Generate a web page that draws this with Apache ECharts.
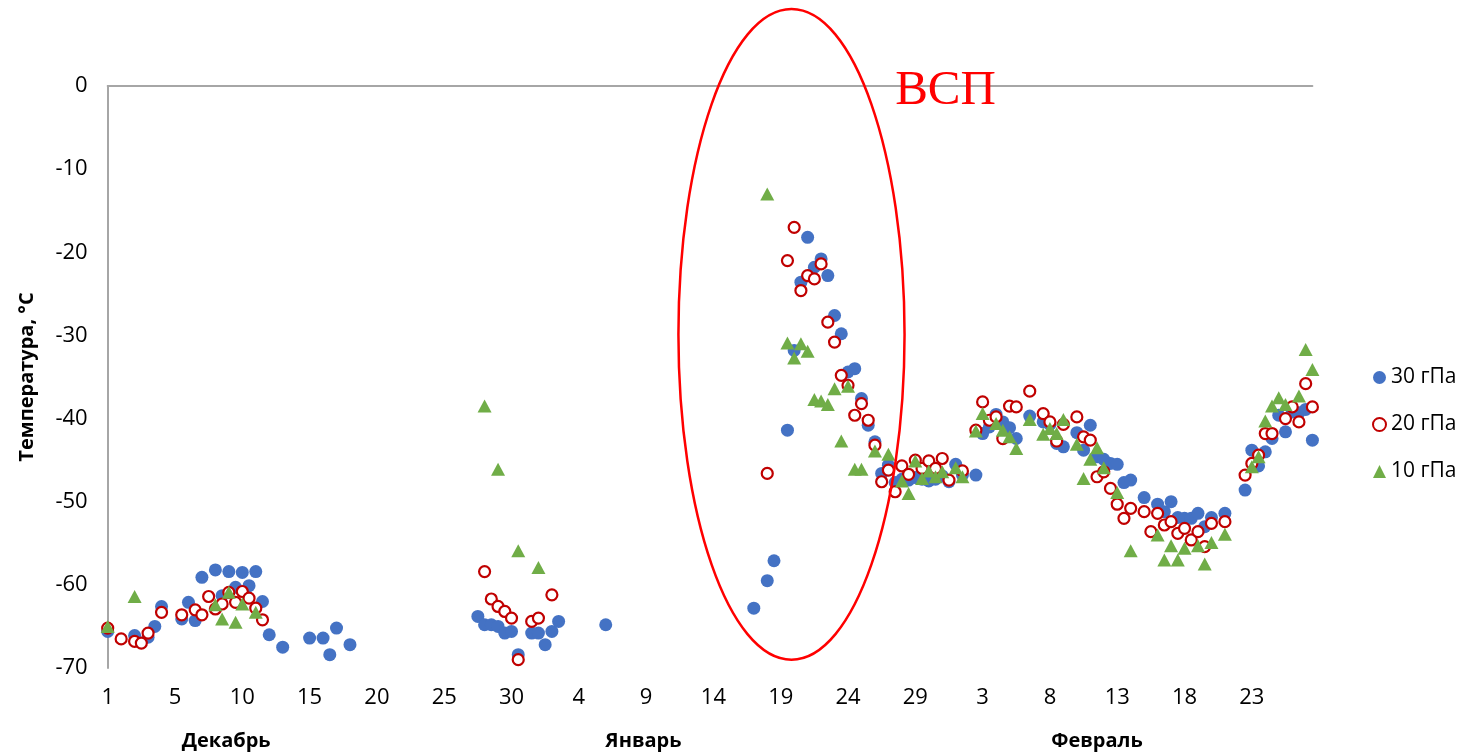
<!DOCTYPE html>
<html>
<head>
<meta charset="utf-8">
<script src="https://cdn.jsdelivr.net/npm/echarts@6/dist/echarts.min.js"></script>
<style>
html,body{margin:0;padding:0;background:#fff;}
#chart{width:1466px;height:755px;}
</style>
</head>
<body>
<div id="chart"></div>
<script>
// x = day position (half-day resolution); 0 = first tick "1" (December)
const tickLabels = ['1','5','10','15','20','25','30','4','9','14','19','24','29','3','8','13','18','23'];
const monthNames = ['Декабрь','Январь','Февраль'];
const monthPos = [8.8, 39.8, 73.5];
const seriesNames = ['30 гПа','20 гПа','10 гПа'];

const t30 = [0,2,3,3.5,4,5.5,6,6.5,7,8,8.5,9,9.5,10,10.5,11,11.5,12,13,15,16,16.5,17,18,
  27.5,28,28.5,29,29.5,30,30.5,31.5,32,32.5,33,33.5,37,
  48,49,49.5,50.5,51,51.5,52,52.5,53,53.5,54,54.5,55,55.5,56,56.5,57,57.5,58,58.5,59,59.5,60,60.5,61,61.5,62,62.5,63,63.5,64.5,
  65,65.5,66,66.5,67,67.5,68.5,69.5,70,70.5,71,72,72.5,73,73.5,74,74.5,75,75.5,76,77,78,78.5,79,79.5,80,80.5,81,81.5,82,83,84.5,85,85.5,86,86.5,87,87.5,88,88.5,89,89.5];
const v30 = [-65.6,-66.1,-66.3,-65.0,-62.6,-64.1,-62.1,-64.3,-59.1,-58.2,-61.3,-58.4,-60.3,-58.5,-60.1,-58.4,-62.0,-66.0,-67.5,-66.4,-66.4,-68.4,-65.2,-67.2,
  -63.8,-64.8,-64.8,-65.0,-65.8,-65.6,-68.4,-65.8,-65.8,-67.2,-65.6,-64.4,-64.8,
  -62.8,-59.5,-57.1,-41.4,-31.8,-23.6,-18.2,-21.8,-20.8,-22.8,-27.6,-29.8,-34.4,-34.0,-37.6,-40.8,-42.8,-46.6,-45.6,-47.7,-47.3,-47.4,-47.1,-47.3,-47.5,-47.3,-46.9,-47.6,-45.5,-46.8,-46.8,
  -41.8,-41.0,-39.5,-40.4,-41.1,-42.4,-39.7,-40.4,-40.7,-43.0,-43.4,-41.7,-43.8,-40.8,-44.6,-44.9,-45.4,-45.5,-47.7,-47.4,-49.5,-50.3,-51.2,-50.0,-51.9,-52.0,-52.0,-51.4,-53.0,-51.9,-51.4,-48.6,-43.8,-45.7,-44.0,-42.4,-39.6,-41.6,-39.2,-39.3,-38.9,-42.6];

const t20 = [0,1,2,2.5,3,4,5.5,6.5,7,7.5,8,8.5,9,9.5,10,10.5,11,11.5,
  28,28.5,29,29.5,30,30.5,31.5,32,33,
  49,50.5,51,51.5,52,52.5,53,53.5,54,54.5,55,55.5,56,56.5,57,57.5,58,58.5,59,59.5,60,60.5,61,61.5,62,62.5,63.5,
  64.5,65,65.5,66,66.5,67,67.5,68.5,69.5,70,70.5,71,72,72.5,73,73.5,74,74.5,75,75.5,76,77,77.5,78,78.5,79,79.5,80,80.5,81,81.5,82,83,84.5,85,85.5,86,86.5,87.5,88,88.5,89,89.5];
const v20 = [-65.2,-66.5,-66.8,-67.0,-65.8,-63.3,-63.6,-63.0,-63.6,-61.4,-62.9,-62.3,-60.9,-62.1,-60.8,-61.6,-62.8,-64.2,
  -58.4,-61.7,-62.6,-63.2,-64.0,-69.0,-64.4,-64.0,-61.2,
  -46.6,-21.0,-17.0,-24.6,-22.8,-23.2,-21.4,-28.4,-30.8,-34.8,-36.0,-39.6,-38.2,-40.2,-43.2,-47.6,-46.2,-48.8,-45.7,-46.7,-45.0,-46.0,-45.1,-46.0,-44.8,-47.4,-46.3,
  -41.4,-38.0,-40.2,-39.8,-42.4,-38.5,-38.6,-36.7,-39.4,-40.4,-42.7,-40.7,-39.8,-42.2,-42.6,-47.0,-46.4,-48.4,-50.3,-52.0,-50.8,-51.2,-53.6,-51.4,-52.8,-52.4,-53.8,-53.2,-54.6,-53.6,-55.4,-52.6,-52.4,-46.8,-45.4,-44.4,-41.8,-41.8,-40.0,-38.6,-40.4,-35.8,-38.6];

const t10 = [0,2,8,8.5,9,9.5,10,11,
  28,29,30.5,32,
  49,50.5,51,51.5,52,52.5,53,53.5,54,54.5,55,55.5,56,57,58,59,59.5,60,60.5,61,61.5,62,63,63.5,
  64.5,65,66,66.5,67,67.5,68.5,69.5,70,70.5,71,72,72.5,73,73.5,74,75,76,78,78.5,79,79.5,80,81,81.5,82,83,85,85.5,86,86.5,87,87.5,88.5,89,89.5];
const v10 = [-65.0,-61.4,-62.4,-64.1,-60.9,-64.5,-62.3,-63.3,
  -38.5,-46.1,-55.9,-57.9,
  -13.0,-30.9,-32.7,-31.0,-31.9,-37.7,-37.9,-38.3,-36.4,-42.7,-36.1,-46.1,-46.1,-43.9,-44.3,-47.5,-49.0,-45.1,-47.2,-46.3,-47.0,-46.4,-45.9,-47.0,
  -41.5,-39.4,-40.6,-41.4,-42.2,-43.6,-40.1,-41.9,-41.2,-41.8,-40.1,-43.1,-47.2,-44.9,-43.5,-45.9,-48.9,-55.9,-54.0,-57.0,-55.3,-57.0,-55.6,-55.3,-57.5,-54.9,-53.9,-45.8,-44.6,-40.3,-38.5,-37.5,-38.3,-37.3,-31.7,-34.1];

function pairs(t, v){ return t.map((x,i)=>[x, v[i]]); }

const FONT = "'Open Sans', 'Noto Sans', sans-serif";
const chart = echarts.init(document.getElementById('chart'), null, {renderer:'canvas'});

const option = {
  backgroundColor:'#ffffff',
  animation:false,
  grid:{left:107.7, right:153.6, top:86, bottom:87, containLabel:false},
  xAxis:{
    type:'value', min:0, max:89.5, interval:5,
    axisLine:{show:true, lineStyle:{color:'#a6a6a6', width:2}},
    axisTick:{show:false},
    splitLine:{show:false},
    axisLabel:{
      color:'#000', fontFamily:FONT, fontSize:22, margin:19,
      showMaxLabel:false,
      formatter:function(val){
        const i = Math.round(val/5);
        if (Math.abs(val - i*5) > 1e-6) return '';
        return tickLabels[i] !== undefined ? tickLabels[i] : '';
      }
    }
  },
  yAxis:{
    type:'value', min:-70, max:0, interval:10,
    name:'Температура, °C', nameLocation:'middle', nameRotate:90, nameGap:70,
    nameTextStyle:{color:'#000', fontFamily:FONT, fontSize:20, fontWeight:'bold'},
    axisLine:{show:true, lineStyle:{color:'#a6a6a6', width:2}},
    axisTick:{show:false},
    splitLine:{show:false},
    axisLabel:{color:'#000', fontFamily:FONT, fontSize:22, margin:20}
  },
  legend:{
    orient:'vertical', left:1367, top:362,
    itemWidth:13, itemHeight:13, itemGap:26,
    textStyle:{color:'#000', fontFamily:FONT, fontSize:21, lineHeight:21},
    data:seriesNames
  },
  series:[
    {name:seriesNames[0], type:'scatter', symbol:'circle', symbolSize:13,
     itemStyle:{color:'#4472C4', opacity:1}, data:pairs(t30, v30), z:2},
    {name:seriesNames[1], type:'scatter', symbol:'circle', symbolSize:11,
     itemStyle:{color:'#ffffff', borderColor:'#C00000', borderWidth:2.2, opacity:1}, data:pairs(t20, v20), z:3},
    {name:seriesNames[2], type:'scatter', symbol:'triangle', symbolSize:[14,13],
     itemStyle:{color:'#70AD47', opacity:1}, data:pairs(t10, v10), z:4}
  ]
};
chart.setOption(option);

// annotations: ellipse around sudden stratospheric warming period, month names
const ellipseBox = {x0:42.4, x1:59.2, yTop:9.25, yBottom:-69.0};
const p0 = chart.convertToPixel({gridIndex:0}, [ellipseBox.x0, ellipseBox.yTop]);
const p1 = chart.convertToPixel({gridIndex:0}, [ellipseBox.x1, ellipseBox.yBottom]);
const labelAnchor = chart.convertToPixel({gridIndex:0}, [58.5, -0.6]);
const baseY = chart.convertToPixel({gridIndex:0}, [0, -70])[1];

const graphics = [
  {type:'ellipse', z:10, silent:true,
   shape:{cx:(p0[0]+p1[0])/2, cy:(p0[1]+p1[1])/2, rx:(p1[0]-p0[0])/2, ry:(p1[1]-p0[1])/2},
   style:{fill:'none', stroke:'#FF0000', lineWidth:2.5}},
  {type:'text', z:10, silent:true, x:labelAnchor[0], y:labelAnchor[1],
   style:{text:'ВСП', fill:'#FF0000', font:"49px 'Liberation Serif', 'DejaVu Serif', serif", textAlign:'left', textVerticalAlign:'middle'}}
];
monthNames.forEach((m, i) => {
  const px = chart.convertToPixel({gridIndex:0}, [monthPos[i], -70])[0];
  graphics.push({type:'text', silent:true, x:px, y:baseY + 73,
    style:{text:m, fill:'#000', font:"bold 20px " + FONT, textAlign:'center', textVerticalAlign:'middle'}});
});
chart.setOption({graphic:graphics});
</script>
</body>
</html>
